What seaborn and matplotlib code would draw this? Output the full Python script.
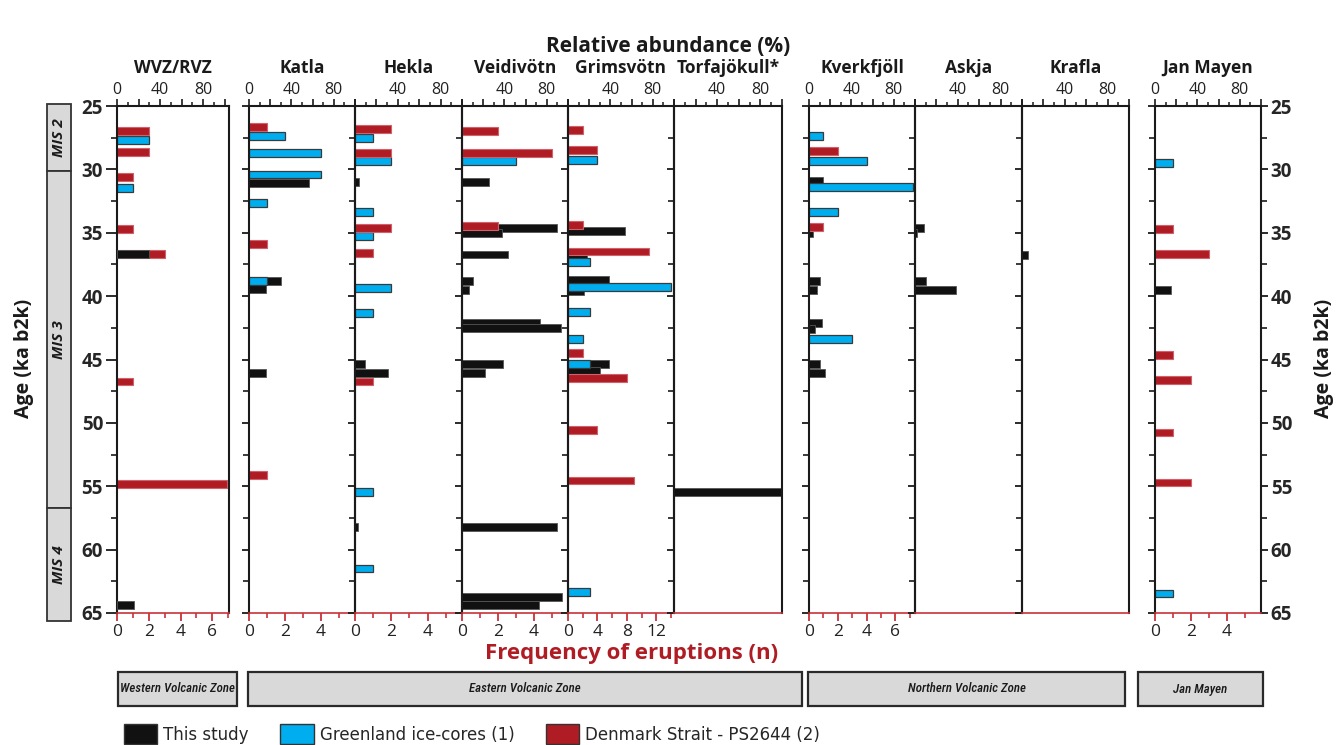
import numpy as np
import matplotlib
matplotlib.use("Agg")
import matplotlib.pyplot as plt
from matplotlib.patches import Rectangle, Patch
from matplotlib.ticker import MultipleLocator, FuncFormatter, NullLocator
from matplotlib import font_manager
import seaborn as sns

# ---------------------------------------------------------------- data
volcanoes = ["WVZ/RVZ", "Katla", "Hekla", "Veidivötn", "Grimsvötn", "Torfajökull*",
             "Kverkfjöll", "Askja", "Krafla", "Jan Mayen"]

# This study: relative abundance (%) of each glass population, by age (ka b2k)
this_study_age = {
    "WVZ/RVZ": [36.65, 64.4],
    "Katla": [31.1, 38.78, 39.46, 46.06],
    "Hekla": [31.02, 45.35, 46.06, 58.23],
    "Veidivötn": [31.02, 34.62, 35.0, 36.72, 38.78, 39.49, 42.14, 42.51, 45.35, 46.06,
                  58.23, 63.72, 64.4],
    "Grimsvötn": [34.89, 36.88, 38.72, 39.6, 45.35, 45.9],
    "Torfajökull*": [55.42],
    "Kverkfjöll": [30.89, 35.02, 38.78, 39.49, 42.14, 42.6, 45.35, 46.06],
    "Askja": [34.62, 35.05, 38.78, 39.49],
    "Krafla": [36.75],
    "Jan Mayen": [39.51],
}
this_study_pct = {
    "WVZ/RVZ": [30, 16],
    "Katla": [57, 30, 16, 16],
    "Hekla": [4, 9, 31, 3],
    "Veidivötn": [25, 90, 38, 43, 10, 7, 74, 93, 39, 22, 90, 94, 73],
    "Grimsvötn": [54, 18, 39, 15, 39, 30],
    "Torfajökull*": [99],
    "Kverkfjöll": [13, 4, 10, 7.5, 12.5, 5.5, 10, 15.5],
    "Askja": [8, 2, 10, 38.5],
    "Krafla": [6],
    "Jan Mayen": [15],
}

# Greenland ice-cores: number of eruptions
greenland_age = {
    "WVZ/RVZ": [27.65, 31.47],
    "Katla": [27.37, 28.68, 30.4, 32.68, 38.78],
    "Hekla": [27.52, 29.36, 33.33, 35.25, 39.38, 41.35, 55.42, 61.49],
    "Veidivötn": [29.31],
    "Grimsvötn": [29.26, 37.28, 39.25, 41.25, 43.35, 45.35, 63.35],
    "Kverkfjöll": [27.37, 29.34, 31.36, 33.33, 43.35],
    "Jan Mayen": [29.5, 63.46],
}
greenland_n = {
    "WVZ/RVZ": [2, 1],
    "Katla": [2, 4, 4, 1, 1],
    "Hekla": [1, 2, 1, 1, 2, 1, 1, 1],
    "Veidivötn": [3],
    "Grimsvötn": [4, 3, 14, 3, 2, 3, 3],
    "Kverkfjöll": [1, 4, 7.2, 2, 3],
    "Jan Mayen": [1, 1],
}

# Denmark Strait core PS2644: number of eruptions
denmark_age = {
    "WVZ/RVZ": [26.95, 28.65, 30.6, 34.7, 36.65, 46.74, 54.8],
    "Katla": [26.68, 35.86, 54.13],
    "Hekla": [26.84, 28.68, 34.65, 36.6, 46.74],
    "Veidivötn": [26.97, 28.68, 34.5],
    "Grimsvötn": [26.89, 28.47, 34.41, 36.48, 44.5, 46.48, 50.55, 54.55],
    "Kverkfjöll": [28.52, 34.54],
    "Jan Mayen": [34.73, 36.67, 44.64, 46.64, 50.76, 54.7],
}
denmark_n = {
    "WVZ/RVZ": [2, 2, 1, 1, 3, 1, 6.9],
    "Katla": [1, 1, 1],
    "Hekla": [2, 2, 2, 1, 1],
    "Veidivötn": [2, 5, 2],
    "Grimsvötn": [2, 4, 2, 11, 2, 8, 4, 9],
    "Kverkfjöll": [2, 1],
    "Jan Mayen": [1, 3, 1, 2, 1, 2],
}

# Frequency axis upper limit per panel
freq_max = {"WVZ/RVZ": 7.05, "Katla": 5.9, "Hekla": 5.9, "Veidivötn": 5.9,
            "Grimsvötn": 14.4, "Torfajökull*": 5.9, "Kverkfjöll": 7.36,
            "Askja": 5.9, "Krafla": 5.9, "Jan Mayen": 5.9}
freq_step = {"WVZ/RVZ": 2, "Katla": 2, "Hekla": 2, "Veidivötn": 2, "Grimsvötn": 4,
             "Kverkfjöll": 2, "Jan Mayen": 2}

mis_labels = ["MIS 2", "MIS 3", "MIS 4"]
mis_bounds = [24.85, 30.1, 56.7, 65.6]

zone_labels = ["Western Volcanic Zone", "Eastern Volcanic Zone",
               "Northern Volcanic Zone", "Jan Mayen"]

series_labels = ["This study", "Greenland ice-cores (1)", "Denmark Strait - PS2644 (2)"]

# ---------------------------------------------------------------- style
sns.set_style("ticks")
plt.rcParams["font.family"] = ["Open Sans", "DejaVu Sans"]

installed = {f.name for f in font_manager.fontManager.ttflist}
narrow = [f for f in ["DejaVu Sans Condensed", "Liberation Sans Narrow",
                      "Roboto Condensed", "Roboto"] if f in installed] or ["DejaVu Sans"]
narrow_font = narrow[0]

BLACK = "#111111"
BLUE = "#00AEEF"
RED = "#B01C24"
AXRED = "#C8323A"
BAR_THICK = 0.62

W, H = 1338, 745
fig = plt.figure(figsize=(W / 100, H / 100), dpi=100)
fig.patch.set_facecolor("white")


def fx(px):
    return px / W


def fy(py):
    return 1 - py / H


panel_px = {"WVZ/RVZ": (117, 229), "Katla": (249, 355), "Hekla": (355, 462),
            "Veidivötn": (462, 568), "Grimsvötn": (568, 674), "Torfajökull*": (674, 782),
            "Kverkfjöll": (809, 915), "Askja": (915, 1022), "Krafla": (1022, 1129),
            "Jan Mayen": (1155, 1261)}
Y_TOP, Y_BOT = 106, 613
show_top_zero = {"WVZ/RVZ", "Katla", "Kverkfjöll", "Jan Mayen"}
black_in_front = {"WVZ/RVZ"}


def draw_bars(axis, ages, vals, color, edge, lw):
    if not ages:
        return
    u = np.unique(np.asarray(ages, float))
    native = float(np.min(np.diff(u))) if len(u) > 1 else 1.0
    sns.barplot(x=vals, y=ages, orient="h", native_scale=True,
                width=BAR_THICK / native, color=color, saturation=1,
                edgecolor=edge, linewidth=lw, errorbar=None, ax=axis)


for name in volcanoes:
    l, r = panel_px[name]
    ax = fig.add_axes([fx(l), fy(Y_BOT), (r - l) / W, (Y_BOT - Y_TOP) / H])
    axp = ax.twiny()

    if name in black_in_front:
        axp.patch.set_visible(False)
    else:
        axp.set_zorder(ax.get_zorder() - 1)
        ax.patch.set_visible(False)
        axp.patch.set_visible(False)

    draw_bars(axp, this_study_age.get(name, []), this_study_pct.get(name, []),
              BLACK, "#555555", 0.6)
    draw_bars(ax, greenland_age.get(name, []), greenland_n.get(name, []),
              BLUE, "#3a3a3a", 0.9)
    draw_bars(ax, denmark_age.get(name, []), denmark_n.get(name, []),
              RED, "#d0606a", 0.8)

    ax.set_ylim(65, 25)
    ax.set_xlim(0, freq_max[name])
    axp.set_xlim(0, 104 if name == "WVZ/RVZ" else 100)
    for a in (ax, axp):
        a.set_xlabel("")
        a.set_ylabel("")

    # spines
    for s in ("left", "right"):
        ax.spines[s].set_visible(True)
        ax.spines[s].set_color("#1a1a1a")
        ax.spines[s].set_linewidth(1.5)
    ax.spines["top"].set_visible(False)
    ax.spines["bottom"].set_visible(True)
    ax.spines["bottom"].set_color(AXRED)
    ax.spines["bottom"].set_linewidth(1.2)
    for s in ("left", "right", "bottom"):
        axp.spines[s].set_visible(False)
    axp.spines["top"].set_visible(True)
    axp.spines["top"].set_color("#1a1a1a")
    axp.spines["top"].set_linewidth(1.5)

    # age ticks
    ax.yaxis.set_major_locator(MultipleLocator(5))
    ax.yaxis.set_minor_locator(MultipleLocator(2.5))
    first = name == "WVZ/RVZ"
    last = name == "Jan Mayen"
    ax.tick_params(axis="y", which="major", direction="out", length=8 if first else 5,
                   width=1.3, color="#1a1a1a", left=True, right=last,
                   labelleft=first, labelright=last, labelsize=13.5, pad=2)
    ax.tick_params(axis="y", which="minor", direction="out", length=4,
                   width=1.2, color="#1a1a1a", left=True, right=last)
    for lab in ax.get_yticklabels():
        lab.set_fontweight("bold")

    # frequency axis (bottom)
    if name in freq_step:
        st = freq_step[name]
        ax.xaxis.set_major_locator(MultipleLocator(st))
        ax.xaxis.set_minor_locator(MultipleLocator(st / 2))
        ax.xaxis.set_major_formatter(FuncFormatter(lambda v, p: f"{v:.0f}"))
        ax.tick_params(axis="x", which="major", direction="out", length=6, width=1.3,
                       color=AXRED, labelcolor="#222222", labelsize=12.5, pad=2,
                       bottom=True, top=False)
        ax.tick_params(axis="x", which="minor", direction="out", length=3.5, width=1.2,
                       color=AXRED, bottom=True, top=False)
    else:
        ax.xaxis.set_major_locator(NullLocator())
        ax.xaxis.set_minor_locator(NullLocator())

    # relative abundance axis (top)
    shown = {40, 80} | ({0} if name in show_top_zero else set())
    axp.xaxis.set_major_locator(MultipleLocator(20))
    axp.xaxis.set_minor_locator(MultipleLocator(10))
    axp.xaxis.set_major_formatter(
        FuncFormatter(lambda v, p, s=shown: f"{v:.0f}" if round(v) in s else ""))
    axp.tick_params(axis="x", which="major", direction="out", length=5, width=1.2,
                    color="#1a1a1a", labelcolor="#222222", labelsize=11.5, pad=1,
                    top=True, bottom=False, labeltop=True, labelbottom=False)
    axp.tick_params(axis="x", which="minor", direction="out", length=3, width=1.1,
                    color="#1a1a1a", top=True, bottom=False)
    axp.tick_params(axis="y", which="both", left=False, right=False,
                    labelleft=False, labelright=False)

    fig.text(fx((l + r) / 2), fy(68), name, ha="center", va="center",
             fontsize=12.5, fontweight="bold", color="#1a1a1a")

# ---------------------------------------------------------------- headers
fig.text(fx(668), fy(47), "Relative abundance (%)", ha="center", va="center",
         fontsize=15, fontweight="bold", color="#1a1a1a")
fig.text(fx(632), fy(654), "Frequency of eruptions (n)", ha="center", va="center",
         fontsize=16, fontweight="bold", color=RED)
fig.text(fx(24), fy(358), "Age (ka b2k)", rotation=90, ha="center", va="center",
         fontsize=14, fontweight="bold", color="#1a1a1a")
fig.text(fx(1324), fy(358), "Age (ka b2k)", rotation=90, ha="center", va="center",
         fontsize=14, fontweight="bold", color="#1a1a1a")

# ---------------------------------------------------------------- MIS column
ax_mis = fig.add_axes([fx(47), fy(Y_BOT), 24 / W, (Y_BOT - Y_TOP) / H])
ax_mis.set_ylim(65, 25)
ax_mis.set_xlim(0, 1)
ax_mis.axis("off")
for lab, y0, y1 in zip(mis_labels, mis_bounds[:-1], mis_bounds[1:]):
    ax_mis.add_patch(Rectangle((0, y0), 1, y1 - y0, facecolor="#d9d9d9",
                               edgecolor="#333333", linewidth=1.3, clip_on=False))
    ax_mis.text(0.5, (y0 + y1) / 2, lab, rotation=90, ha="center", va="center",
                fontsize=11, fontweight="bold", fontstyle="italic", color="#1a1a1a",
                clip_on=False)

# ---------------------------------------------------------------- volcanic zones
zone_px = [(118, 237), (248, 802), (808, 1125), (1138, 1263)]
for lab, (x0, x1) in zip(zone_labels, zone_px):
    fig.add_artist(Rectangle((fx(x0), fy(706)), (x1 - x0) / W, 34 / H,
                             transform=fig.transFigure, facecolor="#d9d9d9",
                             edgecolor="#2a2a2a", linewidth=1.6))
    fig.text(fx((x0 + x1) / 2), fy(689), lab, ha="center", va="center",
             fontsize=9.3, fontstyle="italic", fontweight="medium", color="#1a1a1a",
             family=[narrow_font, "DejaVu Sans"], fontstretch="condensed")

# ---------------------------------------------------------------- legend
handles = [Patch(facecolor=BLACK, edgecolor="#333333"),
           Patch(facecolor=BLUE, edgecolor="#333333"),
           Patch(facecolor=RED, edgecolor="#333333")]
fig.legend(handles, series_labels, ncol=3, loc="center left",
           bbox_to_anchor=(fx(124), fy(734)), frameon=False,
           prop={"family": "DejaVu Sans", "size": 12},
           handlelength=2.0, handleheight=1.4, handletextpad=0.35,
           columnspacing=1.9, borderpad=0, borderaxespad=0)

fig.savefig("out.png", dpi=100)
